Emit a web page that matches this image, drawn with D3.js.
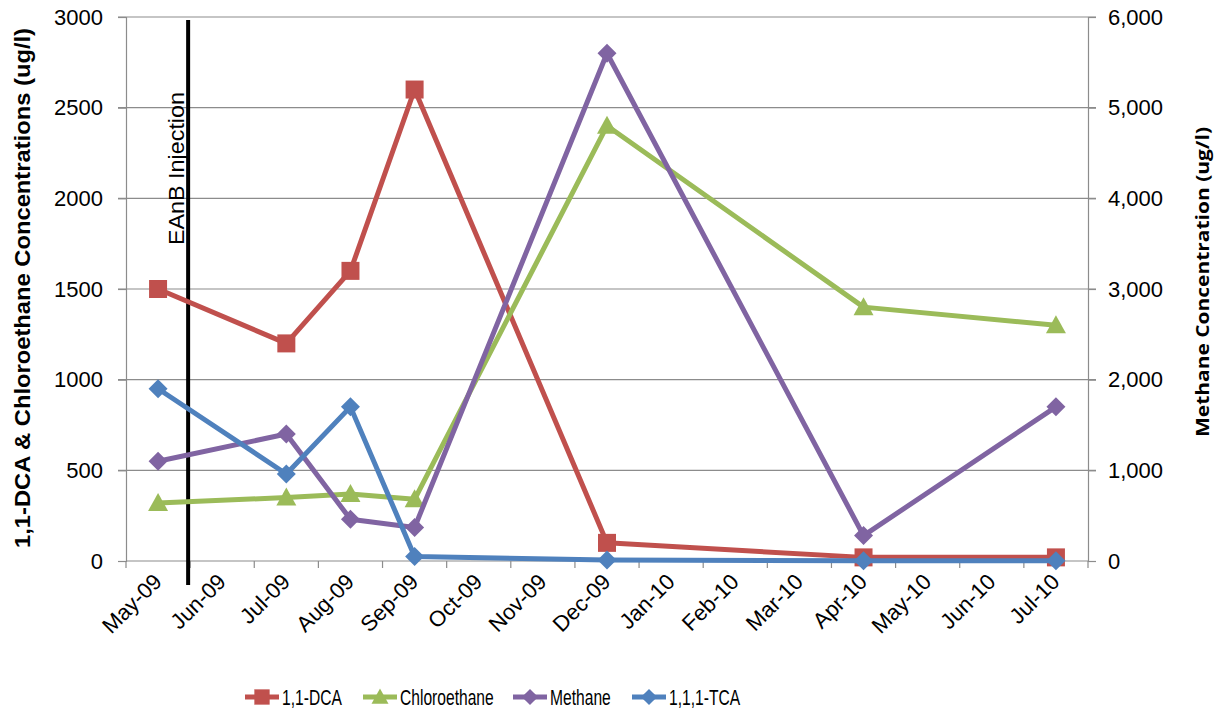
<!DOCTYPE html>
<html>
<head>
<meta charset="utf-8">
<script src="https://cdn.jsdelivr.net/npm/d3@7"></script>
<style>
  html, body { margin: 0; padding: 0; background: #fff; }
  svg { display: block; }
  text { font-family: "Liberation Sans", Arial, sans-serif; }
</style>
</head>
<body>
<svg id="chart" width="1218" height="715"></svg>
<script>
// Monthly axis categories
const months = ["May-09","Jun-09","Jul-09","Aug-09","Sep-09","Oct-09","Nov-09","Dec-09",
                "Jan-10","Feb-10","Mar-10","Apr-10","May-10","Jun-10","Jul-10"];

// Sampling events
const sampleMonths = ["May-09","Jul-09","Aug-09","Sep-09","Dec-09","Apr-10","Jul-10"];

// Concentrations (ug/l)
const dca          = [1500, 1200, 1600, 2600, 100, 20, 20];
const chloroethane = [320, 350, 370, 340, 2400, 1400, 1300];
const methane      = [1100, 1400, 460, 370, 5600, 280, 1700];   // right axis
const tca          = [950, 480, 850, 25, 5, 2, 2];

const leftTicks  = [0, 500, 1000, 1500, 2000, 2500, 3000];
const rightTicks = [0, 1000, 2000, 3000, 4000, 5000, 6000];

const injectionAfter = "May-09";   // injection marked at the boundary after this month

const svg = d3.select("#chart");
const L = 126, R = 1088, T = 17, B = 561;

const x = d3.scaleBand().domain(months).range([L, R]);
const yL = d3.scaleLinear().domain([0, 3000]).range([B, T]);
const yR = d3.scaleLinear().domain([0, 6000]).range([B, T]);

const gridColor = "#8c8c8c";
const sans = "'Liberation Sans', Arial, sans-serif";

// Horizontal gridlines
svg.append("g").selectAll("line").data(leftTicks.slice(1)).join("line")
  .attr("x1", L - 8).attr("x2", R + 8)
  .attr("y1", d => yL(d)).attr("y2", d => yL(d))
  .attr("stroke", gridColor).attr("stroke-width", 1.2);

// Left axis
const gLeft = svg.append("g").attr("transform", `translate(${L},0)`)
  .call(d3.axisLeft(yL).tickValues(leftTicks).tickSize(8).tickPadding(15).tickFormat(d3.format("d")));
gLeft.attr("font-size", null).attr("font-family", null);
gLeft.select(".domain").attr("stroke", gridColor).attr("stroke-width", 1.2);
gLeft.selectAll(".tick line").attr("stroke", gridColor).attr("stroke-width", 1.2);
gLeft.selectAll(".tick text").style("font-size", "22px").attr("fill", "#000").style("font-family", sans);

// Right axis
const gRight = svg.append("g").attr("transform", `translate(${R},0)`)
  .call(d3.axisRight(yR).tickValues(rightTicks).tickSize(8).tickPadding(12).tickFormat(d3.format(",")));
gRight.attr("font-size", null).attr("font-family", null);
gRight.select(".domain").attr("stroke", gridColor).attr("stroke-width", 1.2);
gRight.selectAll(".tick line").attr("stroke", gridColor).attr("stroke-width", 1.2);
gRight.selectAll(".tick text").style("font-size", "22px").attr("fill", "#000").style("font-family", sans);

// Bottom axis: tick marks at month boundaries, labels at month centres
const boundaries = months.map(m => x(m)).concat([R]);
svg.append("line").attr("x1", L).attr("x2", R).attr("y1", B).attr("y2", B)
  .attr("stroke", gridColor).attr("stroke-width", 1.2);
svg.append("g").selectAll("line").data(boundaries).join("line")
  .attr("x1", d => d).attr("x2", d => d).attr("y1", B).attr("y2", B + 7)
  .attr("stroke", gridColor).attr("stroke-width", 1.2);
svg.append("g").selectAll("text").data(months).join("text")
  .attr("transform", d => `translate(${x(d) + x.bandwidth() / 2 + 5},${B + 22}) rotate(-45)`)
  .attr("text-anchor", "end").style("font-size", "22px").attr("fill", "#000")
  .text(d => d);

// Axis titles
svg.append("text")
  .attr("transform", `translate(30,288) rotate(-90)`)
  .attr("text-anchor", "middle").style("font-size", "22px").attr("font-weight", "bold")
  .attr("textLength", 520).attr("lengthAdjust", "spacingAndGlyphs")
  .text("1,1-DCA & Chloroethane Concentrations (ug/l)");
svg.append("text")
  .attr("transform", `translate(1209,282) rotate(-90)`)
  .attr("text-anchor", "middle").style("font-size", "18px").attr("font-weight", "bold")
  .style("font-family", "'Open Sans', 'Liberation Sans', sans-serif")
  .attr("textLength", 310).attr("lengthAdjust", "spacingAndGlyphs")
  .text("Methane Concentration (ug/l)");

// Injection marker
const xInj = x(injectionAfter) + x.bandwidth() - 2;
svg.append("line").attr("x1", xInj).attr("x2", xInj).attr("y1", 20).attr("y2", 585)
  .attr("stroke", "#000").attr("stroke-width", 4);
svg.append("text")
  .attr("transform", `translate(${xInj - 4},92) rotate(-90)`)
  .attr("text-anchor", "end").style("font-size", "22px").attr("fill", "#000")
  .attr("textLength", 153).attr("lengthAdjust", "spacingAndGlyphs")
  .text("EAnB Injection");

// Series
const cx = m => x(m) + x.bandwidth() / 2;
const series = [
  { name: "1,1-DCA",      values: dca,          y: yL, color: "#C0504D", symbol: "square" },
  { name: "Chloroethane", values: chloroethane, y: yL, color: "#9BBB59", symbol: "triangle" },
  { name: "Methane",      values: methane,      y: yR, color: "#8064A2", symbol: "diamond" },
  { name: "1,1,1-TCA",    values: tca,          y: yL, color: "#4F81BD", symbol: "diamond" }
];

function markerPath(sym) {
  if (sym === "square") return "M-9,-9H9V9H-9Z";
  if (sym === "triangle") return "M0,-10L10,8H-10Z";
  return "M0,-9.5L9.5,0L0,9.5L-9.5,0Z";
}

series.forEach(s => {
  const pts = sampleMonths.map((m, i) => [cx(m), s.y(s.values[i])]);
  const g = svg.append("g");
  g.append("path").attr("d", d3.line()(pts))
    .attr("fill", "none").attr("stroke", s.color).attr("stroke-width", 5)
    .attr("stroke-linejoin", "round");
  g.selectAll("path.m").data(pts).join("path").attr("class", "m")
    .attr("transform", d => `translate(${d[0]},${d[1]})`)
    .attr("d", markerPath(s.symbol)).attr("fill", s.color);
});

// Legend
const legendX = [245, 363, 513, 632];
const legendY = 697;
series.forEach((s, i) => {
  const g = svg.append("g").attr("transform", `translate(${legendX[i]},${legendY})`);
  g.append("line").attr("x1", 0).attr("x2", 34).attr("y1", 0).attr("y2", 0)
    .attr("stroke", s.color).attr("stroke-width", 5);
  g.append("path").attr("transform", "translate(17,0) scale(0.85)")
    .attr("d", markerPath(s.symbol)).attr("fill", s.color);
  g.append("text").attr("transform", "translate(37,8) scale(0.71,1)")
    .style("font-size", "22px").text(s.name);
});
</script>
</body>
</html>
